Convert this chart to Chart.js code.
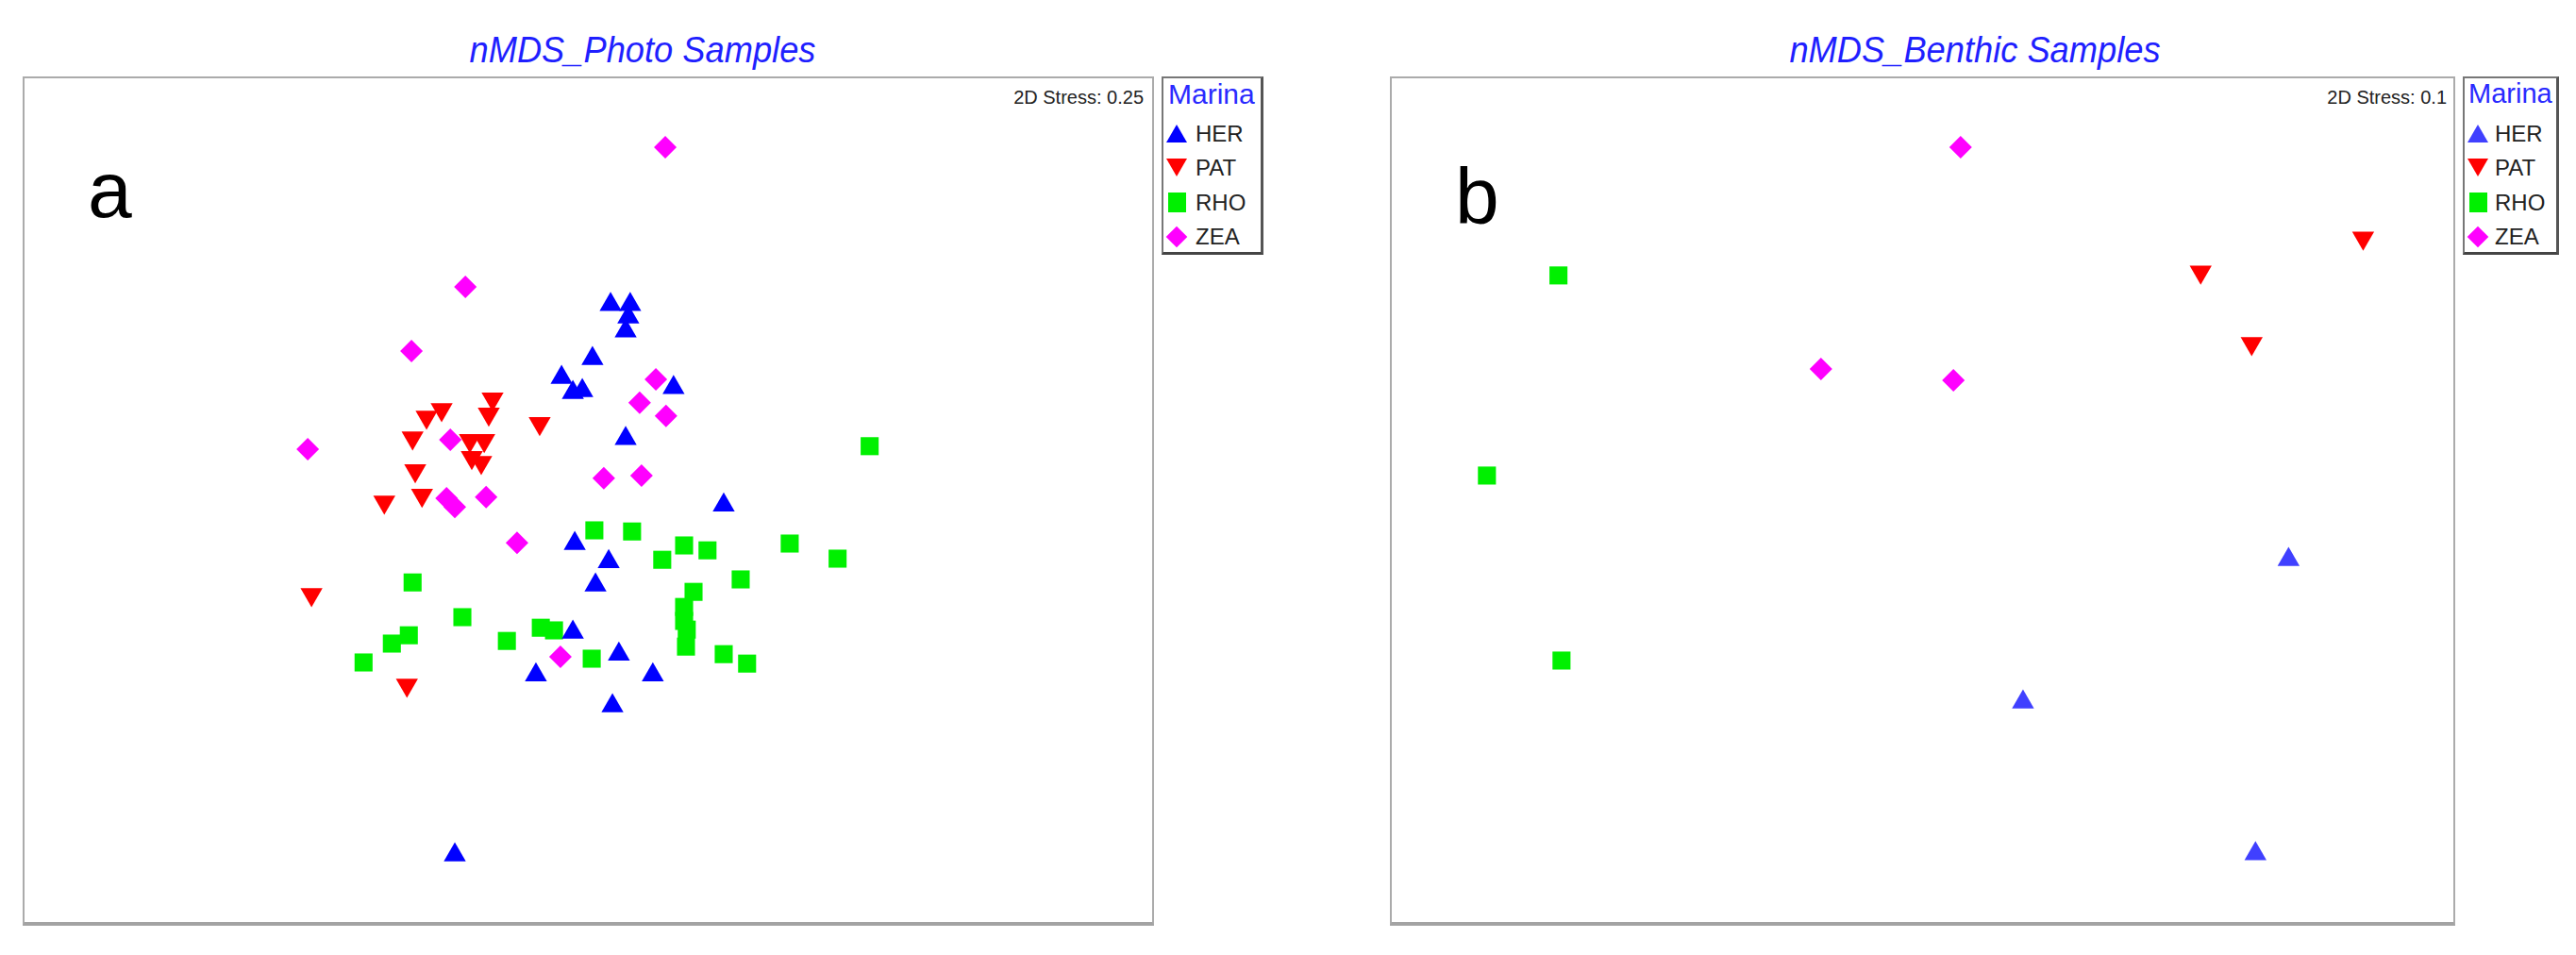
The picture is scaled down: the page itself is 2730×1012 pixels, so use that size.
<!DOCTYPE html>
<html>
<head>
<meta charset="utf-8">
<title>nMDS plots</title>
<script src="https://cdn.jsdelivr.net/npm/chart.js@4"></script>
<style>
  body { margin: 0; background: #fff; font-family: "Liberation Sans", Arial, sans-serif; }
  #page { position: relative; width: 2730px; height: 1012px; overflow: hidden; }
  .abs { position: absolute; white-space: nowrap; }
  .title { color: #1f1fff; font-style: italic; font-size: 39px; line-height: 39px; width: 600px; text-align: center; transform: scaleX(0.93); }
  .letter { font-size: 84px; line-height: 84px; color: #000; }
  .stress { font-size: 20px; line-height: 20px; color: #222; width: 200px; text-align: right; }
  .frame { box-sizing: border-box; border: 2px solid #ababab; border-bottom: 4px solid #a3a3a3; }
  .legend { box-sizing: border-box; border: 2px solid #777; border-right: 3px solid #555; border-bottom: 3px solid #444; background: #fff; }
  .legend .head { color: #2a2aff; }
  .legend .item { font-size: 24px; line-height: 24px; color: #222; }
  canvas { position: absolute; }
</style>
</head>
<body>
<div id="page"></div>
<script>
// grupos (Marina)
const groups = ['HER', 'PAT', 'RHO', 'ZEA'];
const stylesPhoto = ['#0000ff', '#ff0000', '#00f000', '#ff00ff'];
const stylesBenthic = ['#4040ff', '#ff0000', '#00f000', '#ff00ff'];
const pointStyles = ['triangle', 'triangle', 'rect', 'rectRot'];
const rotations = [0, 180, 0, 0];
const radii = [13.5, 13.5, 13.5, 12];

// nMDS_Photo Samples  [MDS1, MDS2]
const photoHER = [[-0.071,0.325],[-0.041,0.285],[-0.016,0.29],[0.059,0.518],[0.111,0.518],[0.106,0.485],[0.099,0.448],[0.011,0.375],[0.226,0.298],[0.099,0.163],[0.359,-0.013],[-0.036,-0.115],[0.054,-0.163],[0.019,-0.225],[-0.041,-0.35],[0.081,-0.408],[-0.139,-0.463],[0.171,-0.463],[0.064,-0.545],[-0.354,-0.94]];
const photoPAT = [[-0.254,0.268],[-0.264,0.228],[-0.389,0.24],[-0.429,0.22],[-0.466,0.165],[-0.129,0.203],[-0.314,0.158],[-0.276,0.158],[-0.309,0.113],[-0.284,0.1],[-0.459,0.078],[-0.441,0.013],[-0.541,-0.005],[-0.734,-0.25],[-0.481,-0.49]];
const photoRHO = [[-0.466,-0.218],[-0.334,-0.31],[-0.476,-0.358],[-0.521,-0.38],[-0.596,-0.43],[-0.216,-0.373],[-0.126,-0.338],[-0.091,-0.345],[0.746,0.143],[0.016,-0.08],[0.116,-0.083],[0.254,-0.12],[0.316,-0.133],[0.196,-0.158],[0.534,-0.115],[0.661,-0.155],[0.404,-0.21],[0.279,-0.243],[0.254,-0.283],[0.254,-0.32],[0.261,-0.343],[0.259,-0.388],[0.359,-0.408],[0.421,-0.433],[0.009,-0.42]];
const photoZEA = [[0.204,0.935],[-0.326,0.565],[-0.469,0.395],[-0.744,0.135],[-0.366,0.16],[-0.376,0.005],[-0.354,-0.018],[-0.271,0.008],[-0.189,-0.113],[-0.074,-0.415],[0.179,0.32],[0.136,0.258],[0.206,0.223],[0.041,0.058],[0.141,0.065]];

// nMDS_Benthic Samples
const benthicHER = [[0.962,-0.157],[0.264,-0.534],[0.875,-0.935]];
const benthicPAT = [[1.158,0.693],[0.731,0.603],[0.865,0.414]];
const benthicRHO = [[-0.957,0.594],[-1.145,0.065],[-0.949,-0.424]];
const benthicZEA = [[0.1,0.933],[-0.267,0.347],[0.081,0.317]];

const panels = [
  {
    title: 'nMDS_Photo Samples', letter: 'a', stress: '2D Stress: 0.25',
    series: [photoHER, photoPAT, photoRHO, photoZEA], colors: stylesPhoto,
    frame: { left: 24, top: 81, width: 1199, height: 898 },
    xRange: [-1.5, 1.5], yRange: [-1.1225, 1.1225],
    legend: { left: 1231, width: 108, headSize: 30, headLeft: 5, textLeft: 34 },
    titleCenter: 681, letterPos: [93, 159], stressRight: 1212
  },
  {
    title: 'nMDS_Benthic Samples', letter: 'b', stress: '2D Stress: 0.1',
    series: [benthicHER, benthicPAT, benthicRHO, benthicZEA], colors: stylesBenthic,
    frame: { left: 1473, top: 81, width: 1129, height: 898 },
    xRange: [-1.4, 1.4], yRange: [-1.12, 1.12],
    legend: { left: 2610, width: 102, headSize: 29, headLeft: 4, textLeft: 32 },
    titleCenter: 2093, letterPos: [1542, 166], stressRight: 2593
  }
];

const page = document.getElementById('page');

function addDiv(cls, text, css, parent) {
  const d = document.createElement('div');
  d.className = 'abs ' + cls;
  if (text) d.textContent = text;
  Object.assign(d.style, css);
  (parent || page).appendChild(d);
  return d;
}

function legendSymbol(i, color, cx, cy, parent) {
  const s = { left: '', top: '', width: '0px', height: '0px' };
  if (i === 0 || i === 1) {
    s.left = (cx - 11) + 'px'; s.top = (cy - 9.5) + 'px';
    s.borderLeft = '11px solid transparent';
    s.borderRight = '11px solid transparent';
    if (i === 0) s.borderBottom = '19px solid ' + color;
    else s.borderTop = '19px solid ' + color;
  } else if (i === 2) {
    s.left = (cx - 9.5) + 'px'; s.top = (cy - 10.5) + 'px';
    s.width = '19px'; s.height = '21px'; s.background = color;
  } else {
    s.left = (cx - 8) + 'px'; s.top = (cy - 8) + 'px';
    s.width = '16px'; s.height = '16px'; s.background = color;
    s.transform = 'rotate(45deg)';
  }
  addDiv('', '', s, parent);
}

panels.forEach(p => {
  const f = p.frame;

  addDiv('title', p.title, { left: (p.titleCenter - 300) + 'px', top: '33px' });
  addDiv('frame', '', { left: f.left + 'px', top: f.top + 'px', width: f.width + 'px', height: (f.height + 2) + 'px' });
  addDiv('letter', p.letter, { left: p.letterPos[0] + 'px', top: p.letterPos[1] + 'px' });
  addDiv('stress', p.stress, { left: (p.stressRight - 200) + 'px', top: '93px' });

  // leyenda "Marina"
  const lg = addDiv('legend', '', { left: p.legend.left + 'px', top: '81px', width: p.legend.width + 'px', height: '189px' });
  addDiv('head', 'Marina', { left: p.legend.headLeft + 'px', top: '2px', fontSize: p.legend.headSize + 'px', lineHeight: p.legend.headSize + 'px' }, lg);
  groups.forEach((g, i) => {
    const base = 67 + i * 36.4;
    addDiv('item', g, { left: p.legend.textLeft + 'px', top: (base - 20.3) + 'px' }, lg);
    legendSymbol(i, p.colors[i], 14, base - 8.6, lg);
  });

  const canvas = document.createElement('canvas');
  canvas.width = f.width;
  canvas.height = f.height;
  canvas.style.left = f.left + 'px';
  canvas.style.top = f.top + 'px';
  page.appendChild(canvas);

  new Chart(canvas.getContext('2d'), {
    type: 'scatter',
    data: {
      datasets: groups.map((g, i) => ({
        label: g,
        data: p.series[i].map(v => ({ x: v[0], y: v[1] })),
        pointStyle: pointStyles[i],
        rotation: rotations[i],
        pointRadius: radii[i],
        pointHoverRadius: radii[i],
        backgroundColor: p.colors[i],
        borderColor: p.colors[i],
        pointBorderWidth: 0,
        clip: false
      }))
    },
    options: {
      responsive: false,
      animation: false,
      devicePixelRatio: 1,
      layout: { padding: 0, autoPadding: false },
      events: [],
      plugins: { legend: { display: false }, tooltip: { enabled: false } },
      scales: {
        x: { type: 'linear', min: p.xRange[0], max: p.xRange[1], display: false },
        y: { type: 'linear', min: p.yRange[0], max: p.yRange[1], display: false }
      }
    }
  });
});
</script>
</body>
</html>
